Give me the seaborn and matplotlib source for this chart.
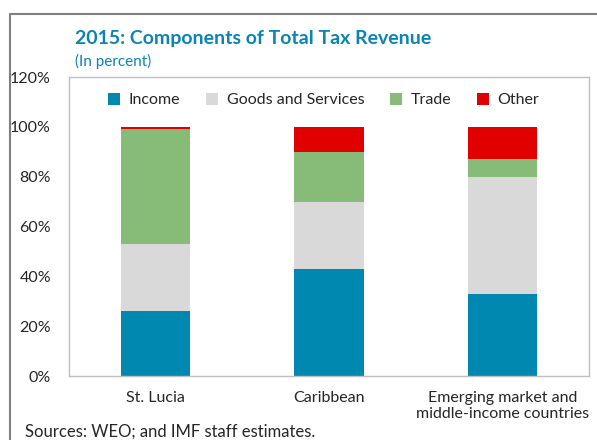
import pandas as pd
import matplotlib
matplotlib.use("Agg")
import matplotlib.pyplot as plt
import seaborn as sns
from matplotlib.lines import Line2D
from matplotlib.patches import Patch

# data (percent of total tax revenue)
regions = ["St. Lucia", "Caribbean", "Emerging market and\nmiddle-income countries"]
income = [26, 43, 33]
goods_services = [27, 27, 47]
trade = [46, 20, 7]
other = [1, 10, 13]

components = ["Income", "Goods and Services", "Trade", "Other"]
colors = ["#0088B1", "#D9D9D9", "#86BC77", "#E00000"]

df = pd.DataFrame({"Region": regions, "Income": income,
                   "Goods and Services": goods_services,
                   "Trade": trade, "Other": other})

sns.set_style("white")
plt.rcParams["font.family"] = ["Lato", "DejaVu Sans"]

fig = plt.figure(figsize=(5.97, 4.40), dpi=100)
ax = fig.add_axes([69 / 597, 1 - 376 / 440, 520 / 597, 299 / 440])

# stacked bars: draw cumulative totals from top down
cum = df[components].cumsum(axis=1)
for comp, col in reversed(list(zip(components, colors))):
    sns.barplot(x=df["Region"], y=cum[comp], color=col, width=0.4,
                saturation=1, ax=ax, edgecolor="none")

ax.set_ylim(0, 120)
ax.set_xlim(-0.5, 2.5)
ax.set_yticks(range(0, 121, 20))
ax.set_yticklabels([f"{v}%" for v in range(0, 121, 20)], fontsize=11.5)
ax.tick_params(axis="y", length=0, pad=13)
ax.tick_params(axis="x", length=0, labelsize=11.5, pad=11)
ax.set_xlabel("")
ax.set_ylabel("")
for s in ax.spines.values():
    s.set_color("#BFBFBF")
    s.set_linewidth(1)

handles = [Patch(facecolor=c, edgecolor="none") for c in colors]
ax.legend(handles, components, loc="upper center", bbox_to_anchor=(0.49, 0.995),
          ncol=4, frameon=False, fontsize=11.5, handlelength=0.75, handleheight=0.75,
          columnspacing=1.6, handletextpad=0.55)

fig.text(75 / 597, 1 - 38 / 440, "2015: Components of Total Tax Revenue",
         fontsize=14, fontweight="bold", color="#0A84B4", va="center")
fig.text(75 / 597, 1 - 61 / 440, "(In percent)", fontsize=11,
         color="#0A84B4", va="center")
fig.text(25 / 597, 1 - 432 / 440, "Sources: WEO; and IMF staff estimates.",
         fontsize=12, va="center")

# outer frame (left and top edges)
fig.add_artist(Line2D([10 / 597, 10 / 597, 1], [0, 1 - 14 / 440, 1 - 14 / 440],
                      color="#7F7F7F", lw=1.5, transform=fig.transFigure))

fig.savefig("out.png", dpi=100)
